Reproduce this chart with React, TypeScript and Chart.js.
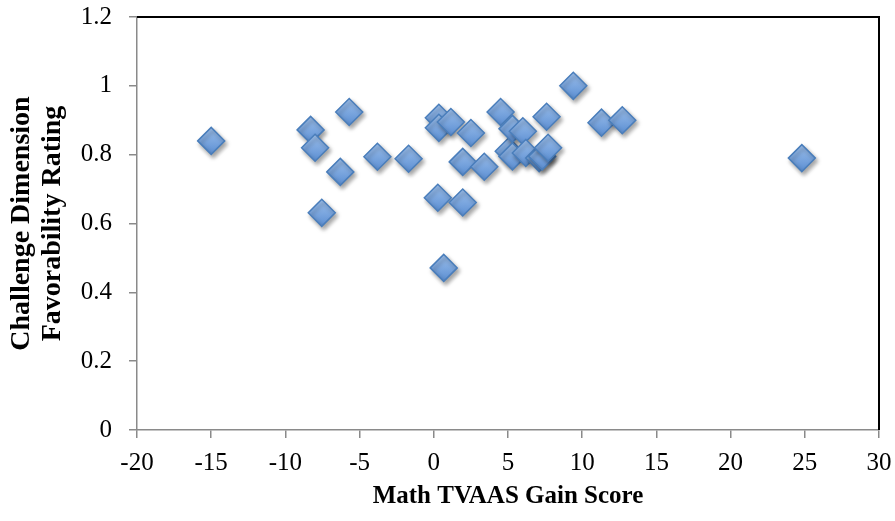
import React, { useEffect, useRef } from "react";
import { Chart, registerables } from "chart.js";

Chart.register(...registerables);

const xValues = [
  -15.0, -8.3, -8.0, -7.55, -6.3, -5.7, -3.8, -1.7, 0.27, 0.34, 0.34, 0.67,
  1.15, 1.95, 1.95, 2.5, 3.4, 4.5, 5.05, 5.3, 5.3, 6.0, 6.2, 7.1, 7.3, 7.6,
  7.7, 9.4, 11.3, 12.7, 24.8,
];
const yValues = [
  0.84, 0.872, 0.82, 0.631, 0.75, 0.924, 0.794, 0.788, 0.675, 0.907, 0.878,
  0.471, 0.895, 0.779, 0.661, 0.863, 0.765, 0.924, 0.81, 0.875, 0.795, 0.868,
  0.805, 0.79, 0.795, 0.91, 0.82, 1.0, 0.893, 0.9, 0.79,
];
const xTickLabels = ["-20", "-15", "-10", "-5", "0", "5", "10", "15", "20", "25", "30"];
const yTickLabels = ["0", "0.2", "0.4", "0.6", "0.8", "1", "1.2"];
const xTitle = "Math TVAAS Gain Score";
const yTitle = ["Challenge Dimension", "Favorability Rating"];

const RADIUS = 13.5;

const framePlugin = {
  id: "frame",
  beforeDatasetsDraw(chart: any) {
    const ctx = chart.ctx;
    ctx.save();
    ctx.shadowColor = "rgba(0,0,0,0.35)";
    ctx.shadowBlur = 4;
    ctx.shadowOffsetX = 2;
    ctx.shadowOffsetY = 3;
  },
  afterDatasetsDraw(chart: any) {
    chart.ctx.restore();
  },
  afterDraw(chart: any) {
    const { ctx, chartArea } = chart;
    ctx.save();
    ctx.strokeStyle = "#000";
    ctx.lineWidth = 2;
    ctx.beginPath();
    ctx.moveTo(chartArea.left, chartArea.top);
    ctx.lineTo(chartArea.right, chartArea.top);
    ctx.lineTo(chartArea.right, chartArea.bottom);
    ctx.stroke();
    ctx.restore();
  },
};

export default function App() {
  const canvasRef = useRef<HTMLCanvasElement | null>(null);

  useEffect(() => {
    if (!canvasRef.current) return;
    const data = xValues.map((x, i) => ({ x, y: yValues[i] }));
    const chart = new Chart(canvasRef.current, {
      type: "scatter",
      data: {
        datasets: [
          {
            data,
            pointStyle: "rectRot",
            pointRadius: RADIUS,
            pointHoverRadius: RADIUS,
            borderColor: "#4a7ebb",
            borderWidth: 1.5,
            backgroundColor: (c: any) => {
              const ch = c.chart;
              if (c.type !== "data" || !ch.scales || !ch.scales.y || !c.parsed) return "#729fd9";
              const py = ch.scales.y.getPixelForValue(c.parsed.y);
              if (!Number.isFinite(py)) return "#729fd9";
              const g = ch.ctx.createLinearGradient(0, py - RADIUS, 0, py + RADIUS);
              g.addColorStop(0, "#9dc0ec");
              g.addColorStop(1, "#5b8ed2");
              return g;
            },
          },
        ],
      },
      options: {
        animation: false,
        responsive: true,
        maintainAspectRatio: false,
        layout: { padding: { top: 17, right: 16, left: 0, bottom: 0 } },
        plugins: { legend: { display: false }, tooltip: { enabled: false } },
        scales: {
          x: {
            type: "linear",
            min: -20,
            max: 30,
            afterFit: (s: any) => {
              s.height = 91;
              s.paddingLeft = 0;
              s.paddingRight = 0;
            },
            ticks: {
              stepSize: 5,
              color: "#000",
              padding: 10,
              font: { family: "Liberation Serif", size: 25 },
              callback: (_v: any, i: number) => xTickLabels[i],
            },
            grid: { drawOnChartArea: false, drawTicks: true, tickLength: 8, color: "#8a8a8a", lineWidth: 1.5 },
            border: { color: "#8a8a8a", width: 1.5 },
            title: {
              display: true,
              text: xTitle,
              color: "#000",
              padding: { top: 0, bottom: 9 },
              font: { family: "Liberation Serif", size: 25, weight: "bold" },
            },
          },
          y: {
            type: "linear",
            min: 0,
            max: 1.2,
            afterFit: (s: any) => {
              s.width = 137;
              s.paddingTop = 0;
              s.paddingBottom = 0;
            },
            ticks: {
              stepSize: 0.2,
              color: "#000",
              padding: 17,
              font: { family: "Liberation Serif", size: 25 },
              callback: (_v: any, i: number) => yTickLabels[i],
            },
            grid: { drawOnChartArea: false, drawTicks: true, tickLength: 8, color: "#8a8a8a", lineWidth: 1.5 },
            border: { color: "#8a8a8a", width: 1.5 },
            title: {
              display: true,
              text: yTitle,
              color: "#000",
              padding: { top: 6, bottom: 0 },
              font: { family: "Liberation Serif", size: 28, weight: "bold", lineHeight: 1.12 },
            },
          },
        },
      },
      plugins: [framePlugin],
    });
    return () => chart.destroy();
  }, []);

  return (
    <div style={{ position: "fixed", left: 0, top: 0, width: 895, height: 521, background: "#fff" }}>
      <canvas ref={canvasRef} />
    </div>
  );
}
